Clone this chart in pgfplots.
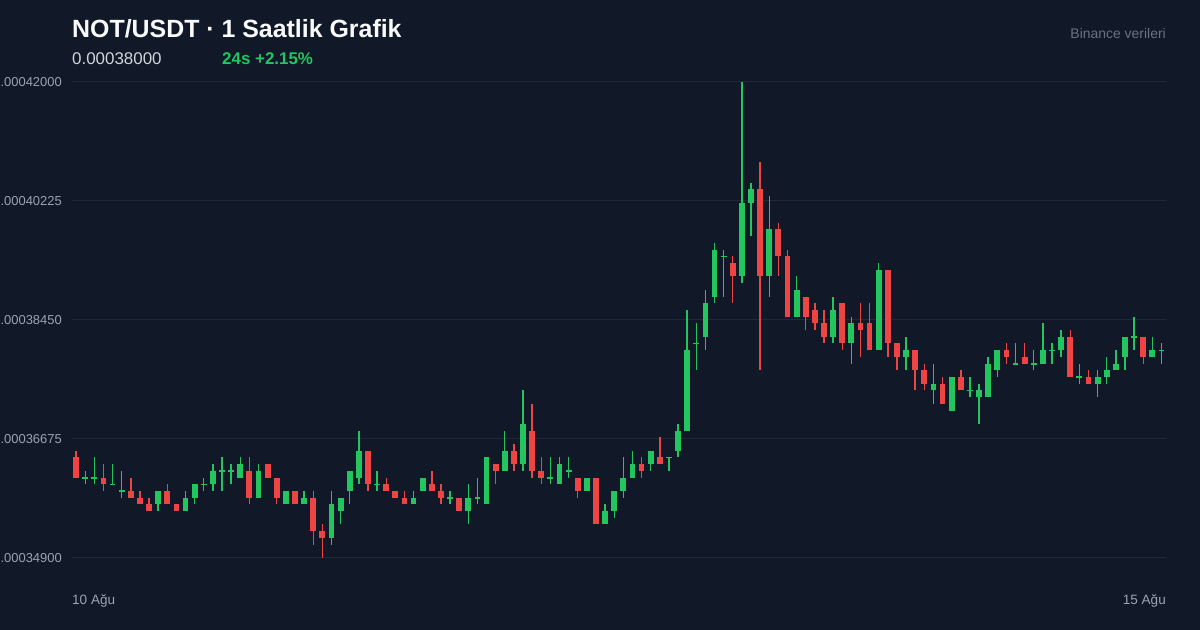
\documentclass[border=0pt]{standalone}
\usepackage{pgfplots}
\pgfplotsset{compat=1.18}
\usepackage{pgfplotstable}
\usepackage{fontspec}
\setmainfont{Liberation Sans}
\definecolor{bg}{HTML}{111827}
\definecolor{gridc}{HTML}{1F2937}
\definecolor{cgreen}{HTML}{22C55E}
\definecolor{cred}{HTML}{EF4444}
\definecolor{titlec}{HTML}{F9FAFB}
\definecolor{subc}{HTML}{D1D5DB}
\definecolor{tickc}{HTML}{9CA3AF}
\definecolor{srcc}{HTML}{6B7280}

\pgfplotstableread{
i o h l c
0 0.000364 0.000365 0.000361 0.000361
1 0.000361 0.000362 0.000360 0.000361
2 0.000361 0.000364 0.000360 0.000361
3 0.000361 0.000363 0.000359 0.000360
4 0.000360 0.000363 0.000360 0.000360
5 0.000359 0.000362 0.000358 0.000359
6 0.000359 0.000361 0.000358 0.000358
7 0.000358 0.000359 0.000357 0.000357
8 0.000357 0.000358 0.000356 0.000356
9 0.000357 0.000359 0.000356 0.000359
10 0.000359 0.000360 0.000357 0.000357
11 0.000357 0.000357 0.000356 0.000356
12 0.000356 0.000359 0.000356 0.000358
13 0.000358 0.000360 0.000357 0.000360
14 0.000360 0.000361 0.000359 0.000360
15 0.000360 0.000363 0.000359 0.000362
16 0.000362 0.000364 0.000359 0.000362
17 0.000362 0.000363 0.000360 0.000362
18 0.000361 0.000364 0.000361 0.000363
19 0.000362 0.000364 0.000357 0.000358
20 0.000358 0.000363 0.000358 0.000362
21 0.000363 0.000363 0.000361 0.000361
22 0.000361 0.000361 0.000357 0.000358
23 0.000357 0.000359 0.000357 0.000359
24 0.000359 0.000359 0.000357 0.000357
25 0.000357 0.000359 0.000357 0.000358
26 0.000358 0.000359 0.000351 0.000353
27 0.000353 0.000354 0.000349 0.000352
28 0.000352 0.000359 0.000351 0.000357
29 0.000356 0.000358 0.000354 0.000358
30 0.000359 0.000362 0.000357 0.000362
31 0.000361 0.000368 0.000360 0.000365
32 0.000365 0.000365 0.000359 0.000360
33 0.000360 0.000362 0.000359 0.000360
34 0.000360 0.000361 0.000359 0.000359
35 0.000359 0.000359 0.000358 0.000358
36 0.000358 0.000359 0.000357 0.000357
37 0.000357 0.000359 0.000357 0.000358
38 0.000359 0.000361 0.000359 0.000361
39 0.000360 0.000362 0.000359 0.000359
40 0.000359 0.000360 0.000357 0.000358
41 0.000358 0.000359 0.000357 0.000358
42 0.000358 0.000358 0.000356 0.000356
43 0.000356 0.000360 0.000354 0.000358
44 0.000358 0.000361 0.000357 0.000358
45 0.000357 0.000364 0.000357 0.000364
46 0.000363 0.000363 0.000360 0.000362
47 0.000362 0.000368 0.000362 0.000365
48 0.000365 0.000366 0.000362 0.000363
49 0.000363 0.000374 0.000362 0.000369
50 0.000368 0.000372 0.000361 0.000362
51 0.000362 0.000364 0.000360 0.000361
52 0.000361 0.000364 0.000360 0.000361
53 0.000360 0.000364 0.000360 0.000363
54 0.000362 0.000364 0.000361 0.000362
55 0.000361 0.000361 0.000358 0.000359
56 0.000359 0.000361 0.000359 0.000361
57 0.000361 0.000361 0.000354 0.000354
58 0.000354 0.000357 0.000354 0.000356
59 0.000356 0.000359 0.000355 0.000359
60 0.000359 0.000364 0.000358 0.000361
61 0.000361 0.000365 0.000361 0.000363
62 0.000363 0.000364 0.000361 0.000362
63 0.000363 0.000365 0.000362 0.000365
64 0.000364 0.000367 0.000363 0.000363
65 0.000364 0.000364 0.000362 0.000364
66 0.000365 0.000369 0.000364 0.000368
67 0.000368 0.000386 0.000368 0.000380
68 0.000381 0.000384 0.000377 0.000381
69 0.000382 0.000389 0.000380 0.000387
70 0.000388 0.000396 0.000387 0.000395
71 0.000394 0.000395 0.000388 0.000394
72 0.000393 0.000394 0.000387 0.000391
73 0.000391 0.000420 0.000390 0.000402
74 0.000402 0.000405 0.000397 0.000404
75 0.000404 0.000408 0.000377 0.000391
76 0.000391 0.000403 0.000388 0.000398
77 0.000398 0.000399 0.000391 0.000394
78 0.000394 0.000395 0.000385 0.000385
79 0.000385 0.000391 0.000385 0.000389
80 0.000388 0.000388 0.000383 0.000385
81 0.000386 0.000387 0.000383 0.000384
82 0.000384 0.000386 0.000381 0.000382
83 0.000382 0.000388 0.000381 0.000386
84 0.000387 0.000387 0.000380 0.000381
85 0.000381 0.000385 0.000378 0.000384
86 0.000384 0.000387 0.000379 0.000383
87 0.000384 0.000387 0.000380 0.000380
88 0.000380 0.000393 0.000380 0.000392
89 0.000392 0.000392 0.000379 0.000381
90 0.000381 0.000381 0.000377 0.000379
91 0.000379 0.000382 0.000377 0.000380
92 0.000380 0.000380 0.000374 0.000377
93 0.000377 0.000378 0.000374 0.000375
94 0.000374 0.000378 0.000372 0.000375
95 0.000375 0.000376 0.000372 0.000372
96 0.000371 0.000376 0.000371 0.000376
97 0.000376 0.000377 0.000374 0.000374
98 0.000374 0.000376 0.000373 0.000374
99 0.000373 0.000375 0.000369 0.000374
100 0.000373 0.000379 0.000373 0.000378
101 0.000377 0.000380 0.000376 0.000380
102 0.000380 0.000381 0.000378 0.000379
103 0.000378 0.000381 0.000378 0.000378
104 0.000379 0.000381 0.000378 0.000378
105 0.000378 0.000380 0.000377 0.000378
106 0.000378 0.000384 0.000378 0.000380
107 0.000380 0.000381 0.000378 0.000380
108 0.000380 0.000383 0.000379 0.000382
109 0.000382 0.000383 0.000376 0.000376
110 0.000376 0.000378 0.000375 0.000376
111 0.000376 0.000377 0.000375 0.000375
112 0.000375 0.000377 0.000373 0.000376
113 0.000376 0.000379 0.000375 0.000377
114 0.000377 0.000380 0.000377 0.000378
115 0.000379 0.000382 0.000377 0.000382
116 0.000382 0.000385 0.000380 0.000382
117 0.000382 0.000382 0.000378 0.000379
118 0.000379 0.000382 0.000379 0.000380
119 0.000380 0.000381 0.000378 0.000380
}\candles

\pgfplotsset{
  candle/.style n args={2}{only marks, mark=*, mark size=0pt,
    mark options={draw=none, fill=none}, forget plot,
    error bars/.cd, y dir=both, y explicit, error mark=none,
    error bar style={line width=#1, draw=#2, solid}},
}

\begin{document}
\begin{tikzpicture}
\fill[bg] (0bp,0bp) rectangle (1200bp,630bp);
\begin{axis}[
  at={(72bp,72bp)}, anchor=south west,
  scale only axis, width=1094bp, height=476bp,
  xmin=-0.45, xmax=119.5,
  ymin=0.000349, ymax=0.00042,
  clip=false,
  axis line style={draw=none},
  xtick=\empty,
  ytick={0.000349,0.00036675,0.0003845,0.00040225,0.00042},
  yticklabels={0.00034900,0.00036675,0.00038450,0.00040225,0.00042000},
  major tick length=0pt,
  ymajorgrids,
  grid style={draw=gridc, line width=1bp},
  yticklabel style={font=\fontsize{13}{13}\selectfont, text=tickc, inner sep=0pt, anchor=east, xshift=-10bp},
  scaled y ticks=false,
]
% wicks
\addplot[restrict expr to domain={(\thisrow{c}-\thisrow{o})*1000000}{-0.5:100}, candle={1.4bp}{cgreen}]
  table[x=i, y expr={(\thisrow{h}+\thisrow{l})/2}, y error expr={(\thisrow{h}-\thisrow{l})/2}] {\candles};
\addplot[restrict expr to domain={(\thisrow{o}-\thisrow{c})*1000000}{0.5:100}, candle={1.4bp}{cred}]
  table[x=i, y expr={(\thisrow{h}+\thisrow{l})/2}, y error expr={(\thisrow{h}-\thisrow{l})/2}] {\candles};
% bodies
\addplot[restrict expr to domain={(\thisrow{c}-\thisrow{o})*1000000}{-0.5:100}, candle={5.8bp}{cgreen}]
  table[x=i, y expr={(\thisrow{o}+\thisrow{c})/2}, y error expr={max(abs(\thisrow{c}-\thisrow{o})/2,0.0000001)}] {\candles};
\addplot[restrict expr to domain={(\thisrow{o}-\thisrow{c})*1000000}{0.5:100}, candle={5.8bp}{cred}]
  table[x=i, y expr={(\thisrow{o}+\thisrow{c})/2}, y error expr={max(abs(\thisrow{c}-\thisrow{o})/2,0.0000001)}] {\candles};
\end{axis}
\node[anchor=base west, inner sep=0pt, text=titlec, font=\fontsize{25}{28}\selectfont\bfseries] at (72bp,592.3bp) {NOT/USDT · 1 Saatlik Grafik};
\node[anchor=base west, inner sep=0pt, text=subc, font=\fontsize{17}{19}\selectfont] at (72bp,565bp) {0.00038000};
\node[anchor=base west, inner sep=0pt, text=cgreen, font=\fontsize{17}{19}\selectfont\bfseries] at (222bp,565bp) {24s +2.15\%};
\node[anchor=base east, inner sep=0pt, text=srcc, font=\fontsize{14}{16}\selectfont] at (1166bp,591.7bp) {Binance verileri};
\node[anchor=base west, inner sep=0pt, text=tickc, font=\fontsize{13.6}{16}\selectfont] at (72bp,26bp) {10 Ağu};
\node[anchor=base east, inner sep=0pt, text=tickc, font=\fontsize{13.6}{16}\selectfont] at (1166bp,26bp) {15 Ağu};
\pgfresetboundingbox
\useasboundingbox (0bp,0bp) rectangle (1200bp,630bp);
\end{tikzpicture}
\end{document}
